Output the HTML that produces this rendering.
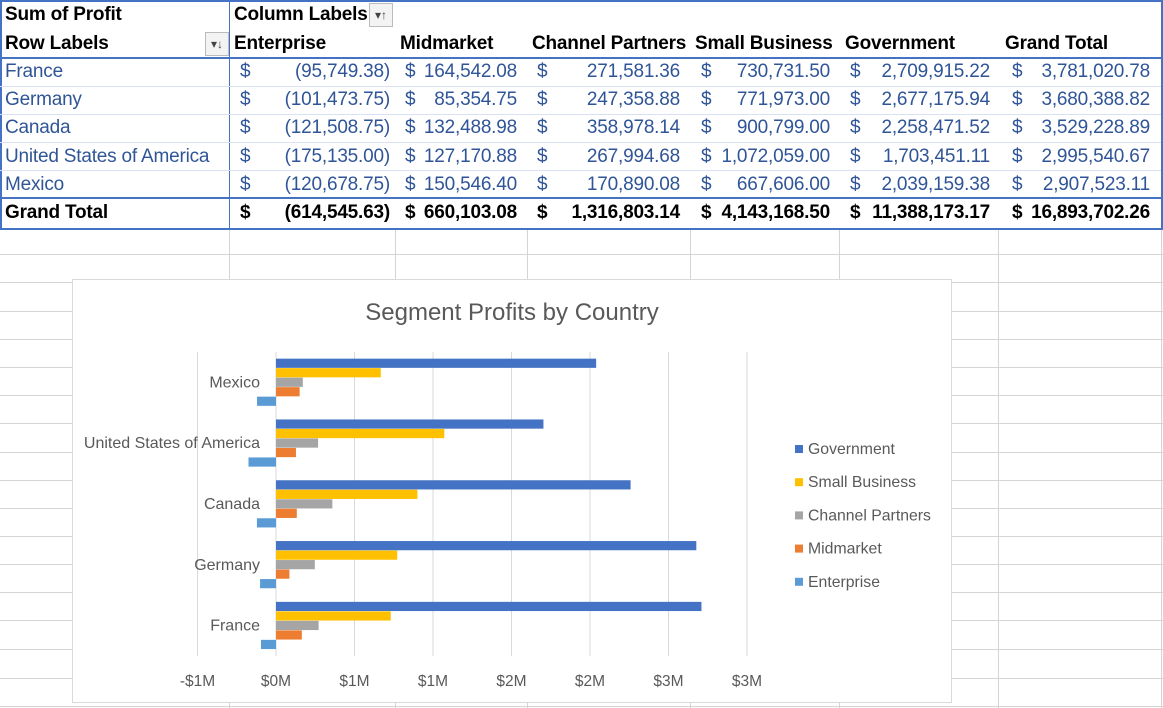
<!DOCTYPE html>
<html><head><meta charset="utf-8">
<style>
body{margin:0;width:1163px;height:708px;overflow:hidden;background:#fff;font-family:"Liberation Sans",sans-serif;position:relative}
.t{position:absolute;white-space:nowrap;font-size:19px;line-height:20px;letter-spacing:-0.2px}
.b{font-weight:bold;color:#000}
.d{color:#2f5597}
.r{text-align:right}
.gl{position:absolute;background:#d4d4d4}
</style></head><body>
<div id="sheet"></div>
<svg id="chart" width="1163" height="708" style="position:absolute;left:0;top:0" xmlns="http://www.w3.org/2000/svg"></svg>
<script>
const countries=["France","Germany","Canada","United States of America","Mexico"];
const enterprise=[-95749.38,-101473.75,-121508.75,-175135.00,-120678.75];
const midmarket=[164542.08,85354.75,132488.98,127170.88,150546.40];
const channel=[271581.36,247358.88,358978.14,267994.68,170890.08];
const smallbiz=[730731.50,771973.00,900799.00,1072059.00,667606.00];
const government=[2709915.22,2677175.94,2258471.52,1703451.11,2039159.38];
const grandTotal=[3781020.78,3680388.82,3529228.89,2995540.67,2907523.11];
const totals=[-614545.63,660103.08,1316803.14,4143168.50,11388173.17,16893702.26];
const tickValues=[-500000,0,500000,1000000,1500000,2000000,2500000,3000000];
const tickLabels=["-$1M","$0M","$1M","$1M","$2M","$2M","$3M","$3M"];
const chartCategories=["Mexico","United States of America","Canada","Germany","France"];

const sheet=document.getElementById('sheet');
function add(parent,html){parent.insertAdjacentHTML('beforeend',html);}
const rowYs=[254,282,311,339,367,395,423,452,480,508,536,564,592,620,649,678,706];
rowYs.forEach(y=>add(sheet,`<div class="gl" style="left:0;top:${y}px;width:1163px;height:1px"></div>`));
[229,395,527,690,839,998,1161].forEach(x=>add(sheet,`<div class="gl" style="left:${x}px;top:228px;width:1px;height:480px"></div>`));
add(sheet,`<div style="position:absolute;left:0;top:0;width:1159px;height:226px;border:2px solid #4472c4"></div>`);
add(sheet,`<div style="position:absolute;left:0;top:57px;width:1163px;height:2px;background:#4472c4"></div>`);
add(sheet,`<div style="position:absolute;left:0;top:197px;width:1163px;height:2px;background:#4472c4"></div>`);
add(sheet,`<div style="position:absolute;left:229px;top:0;width:1px;height:228px;background:#4472c4"></div>`);
[86,114,142,170].forEach(y=>add(sheet,`<div style="position:absolute;left:0;top:${y}px;width:1161px;height:1px;background:#d9e1f2"></div>`));
add(sheet,`<div class="t b" style="left:5px;top:5px">Sum of Profit</div>`);
add(sheet,`<div class="t b" style="left:234px;top:5px">Column Labels</div>`);
add(sheet,`<div style="position:absolute;left:369px;top:3px;width:22px;height:22px;border:1px solid #bbb;background:#f3f3f3;font-size:12px;text-align:center;line-height:22px;color:#444">▾↑</div>`);
add(sheet,`<div class="t b" style="left:5px;top:34px">Row Labels</div>`);
add(sheet,`<div style="position:absolute;left:205px;top:32px;width:22px;height:22px;border:1px solid #bbb;background:#f3f3f3;font-size:12px;text-align:center;line-height:22px;color:#444">▾↓</div>`);
const heads=[["Enterprise",234],["Midmarket",400],["Channel Partners",532],["Small Business",695],["Government",845],["Grand Total",1005]];
heads.forEach(h=>add(sheet,`<div class="t b" style="left:${h[1]}px;top:34px">${h[0]}</div>`));
function fmt(v){const s=Math.abs(v).toLocaleString('en-US',{minimumFractionDigits:2,maximumFractionDigits:2});return v<0?'('+s+')':s;}
const cols=[{d:240,r:390},{d:405,r:517},{d:537,r:680},{d:701,r:830},{d:850,r:990},{d:1012,r:1150}];
const rowsTop=[62,90,118,147,175];
countries.forEach((c,i)=>{
  const y=rowsTop[i];
  add(sheet,`<div class="t d" style="left:5px;top:${y}px">${c}</div>`);
  const vals=[enterprise[i],midmarket[i],channel[i],smallbiz[i],government[i],grandTotal[i]];
  vals.forEach((v,j)=>{
    add(sheet,`<div class="t d" style="left:${cols[j].d}px;top:${y}px">$</div>`);
    add(sheet,`<div class="t d r" style="right:${1163-cols[j].r}px;top:${y}px">${fmt(v)}</div>`);
  });
});
add(sheet,`<div class="t b" style="left:5px;top:203px">Grand Total</div>`);
totals.forEach((v,j)=>{
  add(sheet,`<div class="t b" style="left:${cols[j].d}px;top:203px">$</div>`);
  add(sheet,`<div class="t b r" style="right:${1163-cols[j].r}px;top:203px">${fmt(v)}</div>`);
});

const svg=document.getElementById('chart');
const NS="http://www.w3.org/2000/svg";
function el(tag,attrs,parent){const e=document.createElementNS(NS,tag);for(const k in attrs)e.setAttribute(k,attrs[k]);(parent||svg).appendChild(e);return e;}
const x0=276, pxPer=157/1e6;
const xs=v=>x0+v*pxPer;
const plotTop=352, plotBottom=656, catH=(plotBottom-plotTop)/chartCategories.length;
const bg=el('rect',{x:72.5,y:279.5,width:879,height:423,fill:'#fff',stroke:'#d9d9d9'});


const title=el('text',{x:512,y:320,'text-anchor':'middle','font-size':24,fill:'#595959','font-family':'Liberation Sans, sans-serif'});
title.textContent='Segment Profits by Country';


tickValues.forEach((v,i)=>{
  const g=el('line',{x1:xs(v),x2:xs(v),y1:plotTop,y2:plotBottom,stroke:'#d9d9d9','stroke-width':1});
  
  
  const t=el('text',{x:xs(v),y:686,'text-anchor':'middle','font-size':15.5,fill:'#595959','font-family':'Liberation Sans, sans-serif'});
  t.textContent=tickLabels[i];
  
  
});
const series=[
 {name:"Government",vals:government,color:"#4472c4"},
 {name:"Small Business",vals:smallbiz,color:"#ffc000"},
 {name:"Channel Partners",vals:channel,color:"#a5a5a5"},
 {name:"Midmarket",vals:midmarket,color:"#ed7d31"},
 {name:"Enterprise",vals:enterprise,color:"#5b9bd5"}];
const barPitch=9.5, barH=9.2, groupPad=(catH-barPitch*5)/2;
chartCategories.forEach((c,ci)=>{
  const di=countries.indexOf(c);
  const gTop=plotTop+ci*catH+groupPad;
  series.forEach((s,si)=>{
    const v=s.vals[di];
    const r=el('rect',{x:Math.min(xs(0),xs(v)),y:gTop+si*barPitch,width:Math.abs(xs(v)-xs(0)),height:barH,fill:s.color});
    
    
  });
  const t=el('text',{x:260,y:plotTop+ci*catH+catH/2+5,'text-anchor':'end','font-size':16,fill:'#595959','font-family':'Liberation Sans, sans-serif'});
  t.textContent=c;
  
  
});
series.forEach((s,i)=>{
  const y=449+i*33.2;
  const m=el('rect',{x:795,y:y-4,width:8,height:8,fill:s.color});
  
  
  const t=el('text',{x:808,y:y+5,'font-size':15.8,fill:'#595959','font-family':'Liberation Sans, sans-serif'});
  t.textContent=s.name;
  
  
});
</script>
</body></html>
